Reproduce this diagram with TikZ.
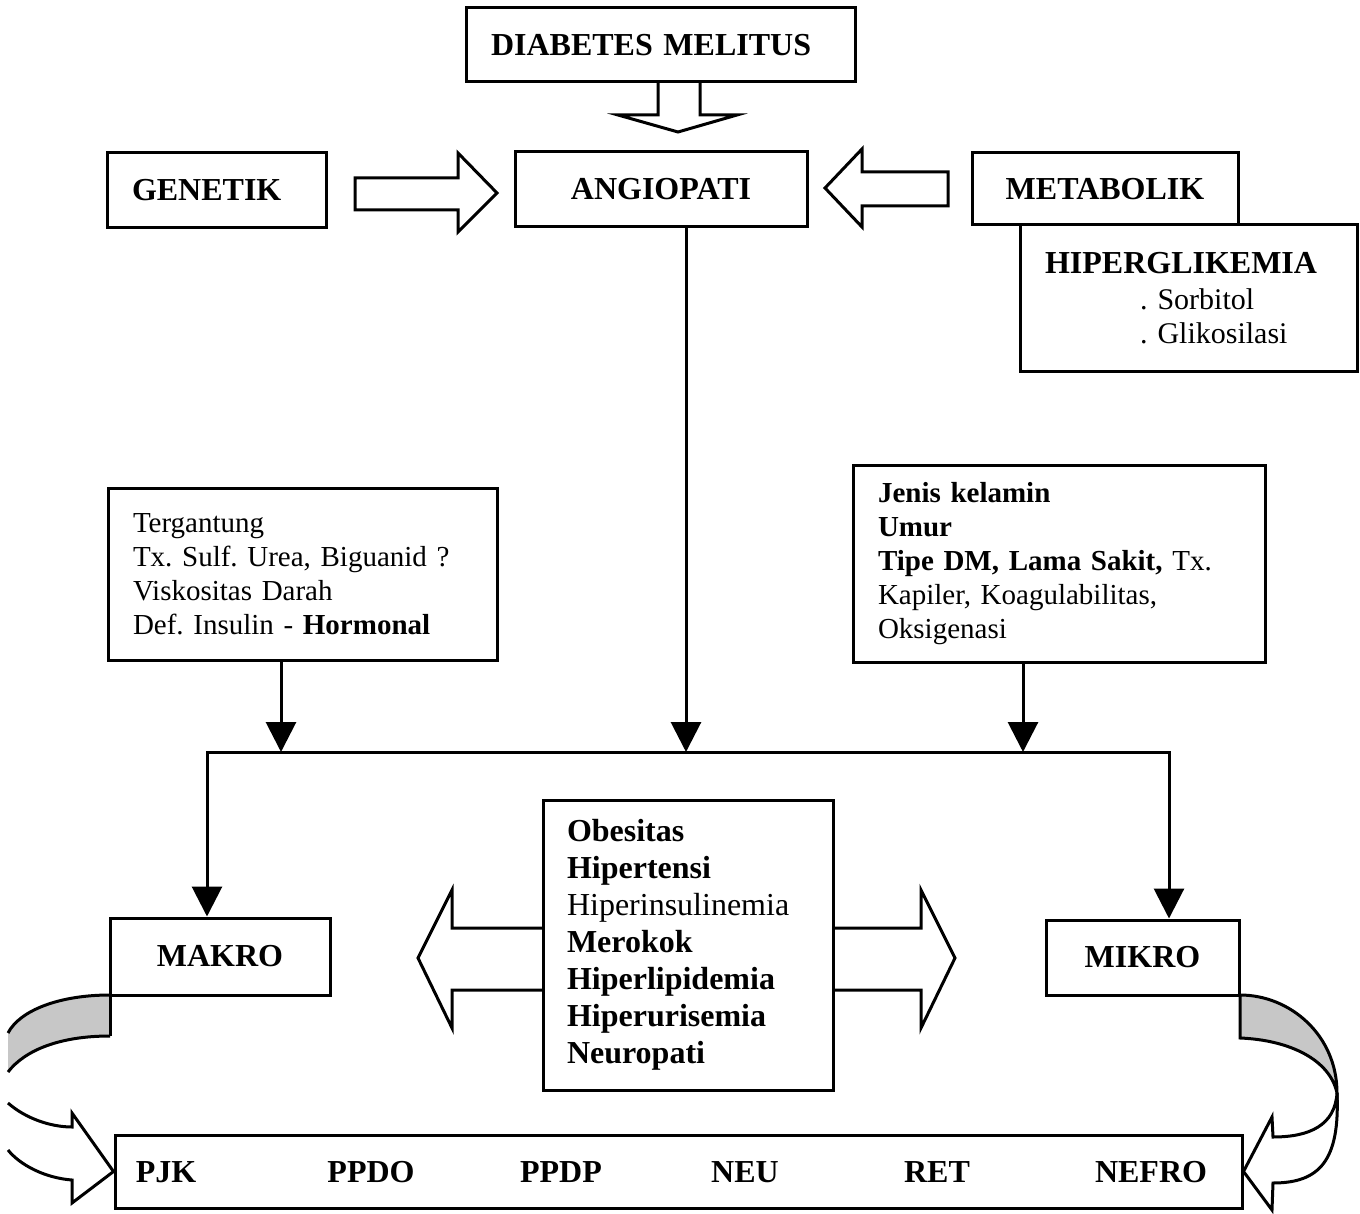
\documentclass[tikz,border=0pt]{standalone}
\usepackage{fontspec}
\setmainfont{Liberation Serif}
\usetikzlibrary{arrows.meta,calc}
\frenchspacing
\begin{document}
\begin{tikzpicture}[x=1pt,y=-1pt,
  box/.style={draw, line width=3pt, inner sep=0pt, fill=white},
  hd/.style={font=\fontsize{32}{38}\selectfont\bfseries},
  body/.style={font=\fontsize{29}{34}\selectfont, align=left},
  conn/.style={line width=3pt, line join=miter, -{Triangle[width=30pt,length=30pt]}},
  wire/.style={line width=3pt},
  blockarrow/.style={draw, line width=3pt, fill=white, line join=miter, miter limit=20},
  twist/.style={fill=black!22},
]
\useasboundingbox (0,0) rectangle (1360,1214);

% hollow block arrows
\path[blockarrow] (658,82) -- (658,115) -- (618,115) -- (678,132) -- (737,115) -- (700,115) -- (700,82);
\path[blockarrow] (355,178) -- (458,178) -- (458,153) -- (497,193) -- (458,232) -- (458,210) -- (355,210) -- cycle;
\path[blockarrow] (948,172) -- (862,172) -- (862,149) -- (825,188) -- (862,227) -- (862,206) -- (948,206) -- cycle;
\path[blockarrow] (543,928) -- (452,928) -- (452,890) -- (418,958) -- (452,1028) -- (452,990) -- (543,990);
\path[blockarrow] (833,928) -- (921,928) -- (921,890) -- (955,958) -- (921,1028) -- (921,990) -- (833,990);

% boxes
\node[box, hd, minimum width=389pt, minimum height=74pt, text width=339pt, align=left] (dm) at (660.5,45) {DIABETES MELITUS};
\node[box, hd, minimum width=219pt, minimum height=75pt, text width=169pt, align=left] (gen) at (216.5,190.5) {GENETIK};
\node[box, hd, minimum width=292pt, minimum height=75pt] (ang) at (661,189.5) {ANGIOPATI};
\node[box, hd, minimum width=266pt, minimum height=72pt] (met) at (1105,189) {METABOLIK};
\node[box, minimum width=337pt, minimum height=147pt, text width=287pt, align=left,
      font=\fontsize{30}{34}\selectfont] (hip) at (1188.5,298.5)
  {{\fontsize{32}{38}\selectfont\bfseries HIPERGLIKEMIA}\\[2pt]
   \hspace*{95pt}. Sorbitol\\
   \hspace*{95pt}. Glikosilasi};

\node[box, body, minimum width=389pt, minimum height=172pt, text width=339pt] (fac1) at (302.5,574)
  {Tergantung\\
   Tx. Sulf. Urea, Biguanid ?\\
   Viskositas Darah\\
   Def. Insulin - \textbf{Hormonal}};
\node[box, body, minimum width=412pt, minimum height=197pt, text width=362pt] (fac2) at (1059,563.5)
  {\textbf{Jenis kelamin}\\
   \textbf{Umur}\\
   \textbf{Tipe DM, Lama Sakit,} Tx.\\
   Kapiler, Koagulabilitas,\\
   Oksigenasi};

\node[box, font=\fontsize{32}{37}\selectfont, align=left, minimum width=290pt, minimum height=290pt,
      text width=242pt] (risk) at (688,945)
  {\textbf{Obesitas}\\
   \textbf{Hipertensi}\\
   Hiperinsulinemia\\
   \textbf{Merokok}\\
   \textbf{Hiperlipidemia}\\
   \textbf{Hiperurisemia}\\
   \textbf{Neuropati}};

\node[box, hd, minimum width=220pt, minimum height=77pt] (makro) at (220,956.5) {MAKRO};
\node[box, hd, minimum width=193pt, minimum height=75pt] (mikro) at (1142.5,957.5) {MIKRO};

\node[box, minimum width=1127pt, minimum height=73pt] (out) at (678.5,1171.5) {};
\node[hd, anchor=base] (pjk)   at (166,1182)  {PJK};
\node[hd, anchor=base] (ppdo)  at (371,1182)  {PPDO};
\node[hd, anchor=base] (ppdp)  at (561,1182)  {PPDP};
\node[hd, anchor=base] (neu)   at (745,1182)  {NEU};
\node[hd, anchor=base] (ret)   at (937,1182)  {RET};
\node[hd, anchor=base] (nefro) at (1151,1182) {NEFRO};

% collecting line and its feeders
\coordinate (angOut)  at ([xshift=25pt]ang.south);
\coordinate (fac1Out) at ([xshift=-21.5pt]fac1.south);
\coordinate (fac2Out) at ([xshift=-36pt]fac2.south);
\coordinate (busL) at (207,752);
\coordinate (busR) at (1169,752);
\coordinate (busMid) at (angOut |- busL);

\draw[conn] (angOut) -- (busMid);
\draw[conn] (fac1Out) -- (fac1Out |- busL);
\draw[conn] (fac2Out) -- (fac2Out |- busL);
\draw[conn] (busMid) -| (busL |- makro.north);
\draw[conn] (busMid) -| (busR |- mikro.north);

% curved arrow from MAKRO down to the outcome box
\fill[twist] (110,995) .. controls (60,995) and (20,1010) .. (8,1033) -- (8,1072)
  .. controls (25,1050) and (60,1036) .. (110,1036) -- cycle;
\draw[wire] (110,995) .. controls (60,995) and (20,1010) .. (8,1033);
\draw[wire] (110,1036) .. controls (60,1036) and (25,1050) .. (8,1072);
\draw[wire] (110,995) -- (110,1036);
\draw[wire, line join=miter] (8,1103) .. controls (25,1118) and (50,1127) .. (72,1127)
  -- (72,1113) -- (out.west) -- (72,1203) -- (72,1180)
  .. controls (45,1178) and (20,1165) .. (8,1150);

% curved arrow from MIKRO down to the outcome box
\path[twist, draw, line width=3pt] (1240,995) .. controls (1290,995) and (1337,1035) .. (1337,1093)
  .. controls (1330,1060) and (1290,1040) .. (1240,1038) -- cycle;
\draw[wire, line join=miter] (1337,1093) .. controls (1335,1125) and (1310,1137) .. (1273,1137)
  -- (1272,1117) -- (out.east) -- (1272,1210) -- (1273,1183)
  .. controls (1320,1183) and (1340,1160) .. (1337,1093);
\end{tikzpicture}
\end{document}
